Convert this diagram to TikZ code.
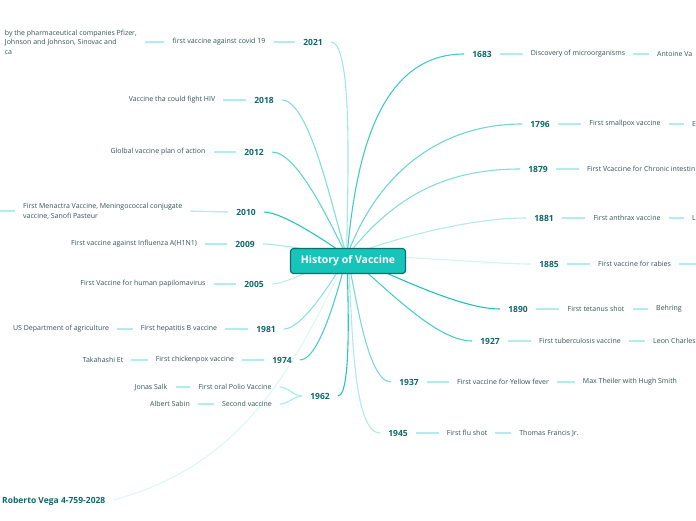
\documentclass[tikz,border=0pt]{standalone}
\usepackage{fontspec}
\setmainfont{Open Sans}
\usetikzlibrary{backgrounds}
\definecolor{hubfill}{RGB}{23,196,185}
\definecolor{hubedge}{RGB}{12,110,104}
\definecolor{yearcol}{RGB}{14,104,104}
\definecolor{itemcol}{RGB}{52,84,84}
\definecolor{linkcol}{RGB}{32,194,184}
\definecolor{stubcol}{RGB}{176,238,238}
\tikzset{
  hubbox/.style={draw=hubedge, fill=hubfill, line width=1.1pt, rounded corners=3pt,
    minimum width=115pt, minimum height=25pt, text=white,
    font=\fontsize{10.5}{12}\selectfont\bfseries},
  year/.style={text=yearcol, inner xsep=4pt, inner ysep=2pt,
    font=\fontsize{8.5}{10}\selectfont\bfseries},
  item/.style={text=itemcol, inner xsep=4pt, inner ysep=1pt,
    font=\fontsize{7}{9.6}\selectfont},
  link/.style={line width=1.1pt, shorten >=4pt},
  stub/.style={draw=stubcol, line width=1.3pt, shorten >=4pt, shorten <=4pt}
}

\begin{document}
\begin{tikzpicture}[x=1pt, y=-1pt, line cap=round]
\useasboundingbox (0,0) rectangle (696,520);
\clip (0,0) rectangle (696,520);

% ------------------------------------------------------------------
% central topic
% ------------------------------------------------------------------
\node[hubbox] (hub) at (348,261) {History of Vaccine};
\coordinate (root) at (347,256);

% ------------------------------------------------------------------
% years (right side, then left side)
% ------------------------------------------------------------------
\foreach \yr/\x/\y in {1683/482/54, 1796/540/124, 1879/538/169, 1881/544/218,
    1885/549/264, 1890/518/309, 1927/490/341, 1937/409/382, 1945/398/433,
    2021/313/42, 2018/264/100, 2012/254/152, 2010/246/212, 2009/245/244,
    2005/254/284, 1981/266/329, 1974/282/360, 1962/320/396}
  \node[year] (y\yr) at (\x,\y) {\yr};

% ------------------------------------------------------------------
% events and people, right side
% ------------------------------------------------------------------
\node[item] (d1683) at (578,54) {Discovery of microorganisms};
\node[item, anchor=west] (p1683) at (653,54) {Antoine Va};
\node[item] (d1796) at (625,124) {First smallpox vaccine};
\node[item, anchor=west] (p1796) at (688,124) {E};
\node[item, anchor=west] (d1879) at (583,169) {First Vcaccine for Chronic intestin};
\node[item] (d1881) at (627,218) {First anthrax vaccine};
\node[item, anchor=west] (p1881) at (688,218) {L};
\node[item] (d1885) at (634.5,264) {First vaccine for rabies};
\coordinate (e1885) at (704,264);
\node[item] (d1890) at (596,309) {First tetanus shot};
\node[item] (p1890) at (669,309) {Behring};
\node[item] (d1927) at (580,341) {First tuberculosis vaccine};
\node[item, anchor=west] (p1927) at (649,341) {Leon Charles};
\node[item] (d1937) at (503,382) {First vaccine for Yellow fever};
\node[item] (p1937) at (630,382) {Max Theiler with Hugh Smith};
\node[item] (d1945) at (467,433) {First flu shot};
\node[item] (p1945) at (549,433) {Thomas Francis Jr.};

% ------------------------------------------------------------------
% events and people, left side
% ------------------------------------------------------------------
\node[item] (d2021) at (219,42) {first vaccine against covid 19};
\node[item, anchor=east, align=left] (p2021) at (141,42)
  {by the pharmaceutical companies Pfizer,\\Johnson and Johnson, Sinovac and\\ca};
\node[item] (d2018) at (172,100) {Vaccine tha could fight HIV};
\node[item] (d2012) at (158,152) {Glolbal vaccine plan of action};
\node[item, anchor=west, align=left] (d2010) at (19,211)
  {First Menactra Vaccine, Meningococcal conjugate\\vaccine, Sanofi Pasteur};
\coordinate (e2010) at (-8,211);
\node[item] (d2009) at (134,244) {First vaccine against Influenza A(H1N1)};
\node[item] (d2005) at (143,284) {First Vaccine for human papilomavirus};
\node[item] (d1981) at (179,329) {First hepatitis B vaccine};
\node[item] (p1981) at (61,329) {US Department of agriculture};
\node[item] (d1974) at (195,360) {First chickenpox vaccine};
\node[item] (p1974) at (103,360) {Takahashi Et};
\node[item] (d1962a) at (235,387) {First oral Polio Vaccine};
\node[item] (p1962a) at (151,387) {Jonas Salk};
\node[item] (d1962b) at (247,404) {Second vaccine};
\node[item] (p1962b) at (170,404) {Albert Sabin};

\node[year, anchor=west] (credit) at (-2,501) {Roberto Vega 4-759-2028};

% ------------------------------------------------------------------
% connectors (kept under the nodes)
% ------------------------------------------------------------------
\begin{scope}[on background layer]
  \foreach \yr/\ang/\lo/\shade in {1683/85/1/85, 1796/70/1/65, 1879/52/1/55,
      1881/20/0.8/35, 1885/2/0.6/20, 1890/-22/0.7/100, 1927/-37/0.7/80,
      1937/-75/0.55/60, 1945/-80/0.5/35}
    \draw[link, linkcol!\shade] (root) to[out=\ang, in=180, looseness=\lo] (y\yr.west);
  \foreach \yr/\ang/\lo/\shade in {2021/93/0.35/40, 2018/110/0.5/55,
      2012/118/0.6/70, 2010/145/0.6/95, 2009/172/0.6/40, 2005/-165/0.6/30,
      1981/-120/0.6/50, 1974/-105/0.55/80, 1962/-90/0.35/95}
    \draw[link, linkcol!\shade] (root) to[out=\ang, in=0, looseness=\lo] (y\yr.east);
  \draw[link, linkcol!15] (root) to[out=-115, in=15] (credit.east);

  % right side chains
  \foreach \a/\b in {y1683/d1683, d1683/p1683, y1796/d1796, d1796/p1796,
      y1879/d1879, y1881/d1881, d1881/p1881, y1885/d1885, y1890/d1890,
      d1890/p1890, y1927/d1927, d1927/p1927, y1937/d1937, d1937/p1937,
      y1945/d1945, d1945/p1945}
    \draw[stub] (\a.east) -- (\b.west);
  \draw[stub, shorten >=0pt] (d1885.east) -- (e1885);

  % left side chains
  \foreach \a/\b in {y2021/d2021, d2021/p2021, y2018/d2018, y2012/d2012,
      y2010/d2010, y2009/d2009, y2005/d2005, y1981/d1981, d1981/p1981,
      y1974/d1974, d1974/p1974, d1962a/p1962a, d1962b/p1962b}
    \draw[stub] (\a.west) -- (\b.east);
  \draw[stub, shorten >=0pt] (d2010.west) -- (e2010);
  \draw[stub] (y1962.west) to[out=180, in=0] (d1962a.east);
  \draw[stub] (y1962.west) to[out=180, in=0] (d1962b.east);
\end{scope}

\end{tikzpicture}
\end{document}
